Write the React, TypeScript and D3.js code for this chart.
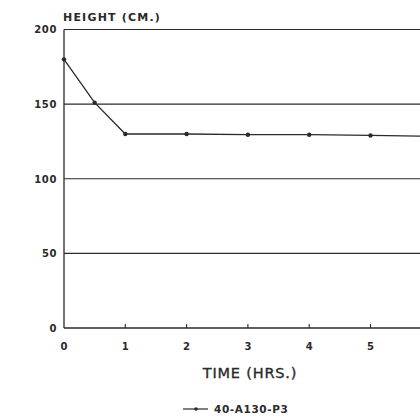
import React from "react";
import * as d3 from "d3";

// Sample settling over time
const times = [0, 0.5, 1, 2, 3, 4, 5, 6];
const heights = [180, 151, 130, 130, 129.5, 129.5, 129, 128.5];
const yTicks = [0, 50, 100, 150, 200];
const xTicks = [0, 1, 2, 3, 4, 5];
const seriesName = "40-A130-P3";

const W = 420;
const H = 420;
const margin = { left: 64, top: 29.5, bottom: 92 };

export default function App() {
  const x = d3.scaleLinear().domain([0, 6]).range([margin.left, margin.left + 6 * 61.3]);
  const y = d3.scaleLinear().domain([0, 200]).range([H - margin.bottom, margin.top]);
  const line = d3
    .line<number>()
    .x((_, i) => x(times[i]))
    .y((d) => y(d));
  const ink = "#2a2a2a";
  const font = "'DejaVu Sans', sans-serif";

  return (
    <svg
      width={W}
      height={H}
      style={{ position: "absolute", left: 0, top: 0, background: "#fff" }}
    >
      {/* horizontal grid lines */}
      {yTicks.slice(1).map((t) => (
        <line key={t} x1={x(0)} x2={W} y1={y(t)} y2={y(t)} stroke={ink} strokeWidth={1.1} />
      ))}
      {/* axes */}
      <line x1={x(0)} x2={x(0)} y1={y(0)} y2={y(200)} stroke={ink} strokeWidth={1.3} />
      <line x1={x(0)} x2={W} y1={y(0)} y2={y(0)} stroke={ink} strokeWidth={1.3} />
      {xTicks.slice(1).map((t) => (
        <line key={t} x1={x(t)} x2={x(t)} y1={y(0)} y2={y(0) - 4} stroke={ink} strokeWidth={1.1} />
      ))}
      {/* y tick labels */}
      {yTicks.map((t) => (
        <text
          key={t}
          x={x(0) - 7}
          y={y(t)}
          dy="0.38em"
          textAnchor="end"
          fontFamily={font}
          fontWeight="bold"
          fontSize={10}
          letterSpacing={0.6}
          fill={ink}
        >
          {t}
        </text>
      ))}
      {/* x tick labels */}
      {xTicks.map((t) => (
        <text
          key={t}
          x={x(t)}
          y={y(0) + 22}
          textAnchor="middle"
          fontFamily={font}
          fontWeight="bold"
          fontSize={10}
          fill={ink}
        >
          {t}
        </text>
      ))}
      {/* axis titles */}
      <text
        x={x(0) - 1}
        y={21}
        fontFamily={font}
        fontWeight="bold"
        fontSize={11}
        letterSpacing={1.2}
        fill={ink}
      >
        HEIGHT (CM.)
      </text>
      <text
        x={250}
        y={378}
        textAnchor="middle"
        fontFamily={font}
        fontSize={14.5}
        letterSpacing={0.8}
        fill={ink}
        stroke={ink}
        strokeWidth={0.35}
      >
        TIME (HRS.)
      </text>
      {/* series */}
      <path d={line(heights) ?? ""} fill="none" stroke={ink} strokeWidth={1.3} />
      {heights.map((h, i) => (
        <circle key={i} cx={x(times[i])} cy={y(h)} r={2.2} fill={ink} />
      ))}
      {/* legend */}
      <line x1={183} x2={208} y1={409} y2={409} stroke={ink} strokeWidth={1.2} />
      <circle cx={196} cy={409} r={1.8} fill={ink} />
      <text
        x={214}
        y={412.5}
        fontFamily={font}
        fontWeight="bold"
        fontSize={10.5}
        letterSpacing={0.6}
        fill={ink}
      >
        {seriesName}
      </text>
    </svg>
  );
}
